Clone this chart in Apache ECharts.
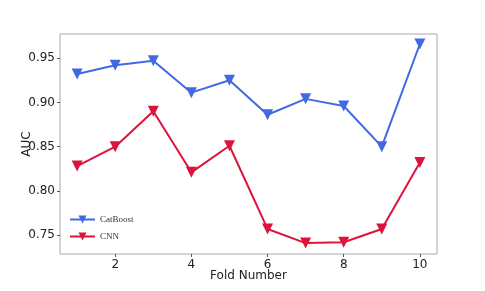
<!DOCTYPE html>
<html><head><meta charset="utf-8">
<script src="https://cdn.jsdelivr.net/npm/echarts@6/dist/echarts.min.js"></script>
<style>html,body{margin:0;padding:0;background:#fff}#c{width:485px;height:291px}</style>
</head><body><div id="c"></div>
<script>
const folds = [1,2,3,4,5,6,7,8,9,10];
const catboost = [0.932,0.942,0.947,0.911,0.925,0.886,0.904,0.896,0.850,0.966];
const cnn = [0.828,0.850,0.890,0.821,0.851,0.757,0.741,0.742,0.757,0.832];
const xTicks = [2,4,6,8,10];
const yTicks = [0.75,0.80,0.85,0.90,0.95];

const chart = echarts.init(document.getElementById('c'), null, {renderer:'canvas'});
const lbl = {color:'#222', fontSize:12, fontFamily:'DejaVu Sans'};
function mk(name, vals, color){
  return {name, type:'line', data: folds.map((f,i)=>[f, vals[i]]),
    symbol:'triangle', symbolRotate:180, symbolSize:11, showAllSymbol:true,
    lineStyle:{color, width:2}, itemStyle:{color}, color};
}
chart.setOption({
  animation:false,
  backgroundColor:'#fff',
  grid:{left:60, right:48, top:34, bottom:37, show:true, borderColor:'#aaa', borderWidth:1, backgroundColor:'transparent'},
  xAxis:{type:'value', min:0.55, max:10.45,
    name:'Fold Number', nameLocation:'middle', nameGap:16, nameTextStyle:lbl, nameMoveOverlap:false,
    axisLine:{show:false}, splitLine:{show:false},
    axisTick:{show:true, inside:false, length:3, lineStyle:{color:'#555'}, customValues:xTicks},
    axisLabel:Object.assign({customValues:xTicks, margin:5}, lbl)},
  yAxis:{type:'value', min:0.7287, max:0.9773,
    name:'AUC', nameLocation:'middle', nameGap:27, nameTextStyle:lbl, nameMoveOverlap:false,
    axisLine:{show:false}, splitLine:{show:false},
    axisTick:{show:true, inside:false, length:3, lineStyle:{color:'#555'}, customValues:yTicks},
    axisLabel:Object.assign({customValues:yTicks, margin:5, formatter:v=>v.toFixed(2)}, lbl)},
  legend:{left:69, top:215, padding:0, orient:'vertical', itemGap:8, itemWidth:25, itemHeight:10,
    textStyle:{fontFamily:'Liberation Serif', fontSize:9, color:'#333'},
    data:['CatBoost','CNN']},
  series:[mk('CatBoost', catboost, '#4169E1'), mk('CNN', cnn, '#DC143C')]
});
</script></body></html>
